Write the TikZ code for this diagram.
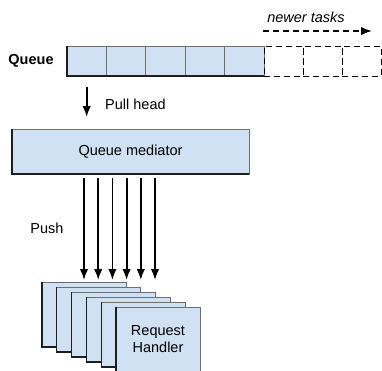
\documentclass[tikz,border=0pt]{standalone}
\usepackage{fontspec}
\setmainfont{Liberation Sans}
\usetikzlibrary{arrows.meta}
\definecolor{cellblue}{RGB}{207,225,242}
\definecolor{rimlight}{RGB}{110,110,110}
\definecolor{rimdark}{RGB}{30,30,30}
\tikzset{
  panel/.style={draw=rimlight, fill=cellblue, line width=1pt, rectangle,
    inner sep=0pt, outer sep=0pt, anchor=north west},
  slot/.style={draw=black, line width=1pt, dash pattern=on 6pt off 4pt,
    rectangle, inner sep=0pt, outer sep=0pt, anchor=north west,
    minimum width=39pt, minimum height=30pt},
  rim/.style={draw=rimdark, line width=1.3pt},
  push/.style={line width=1.8pt, -{Latex[length=11pt,width=8.5pt]}},
  lbl/.style={font=\fontsize{14.5}{17}\selectfont, inner sep=0pt}
}
\begin{document}
\begin{tikzpicture}[x=1pt,y=-1pt]
\useasboundingbox (0,0) rectangle (382,370);
\clip (0,0) rectangle (382,370);

% the queue: filled cells and the empty slots for newer tasks
\foreach \i in {0,...,4}
  \node[panel, minimum width=39.4pt, minimum height=30pt] (q\i) at ({67+39.4*\i},46) {};
\draw[rim] (q0.north west) -- (q0.south west) -- (q4.south east);
\foreach \i in {0,1,2}
  \node[slot] (s\i) at ({264+39*\i},46) {};

\node[lbl, font=\fontsize{14.5}{17}\selectfont\bfseries] (qlabel) at (31,61) {Queue};

% newer tasks arrive on the right
\node[lbl, font=\fontsize{14.5}{17}\selectfont\itshape] (newer) at (306,17) {newer tasks};
\coordinate (nt0) at (263,31);
\coordinate (nt1) at (372,31);
\draw[line width=1.8pt, dash pattern=on 6pt off 4pt, -{Latex[length=11pt,width=8.5pt]}] (nt0) -- (nt1);

% mediator
\node[panel, minimum width=237pt, minimum height=45pt] (med) at (12,129) {};
\draw[rim] (med.north west) -- (med.south west) -- (med.south east);
\node[lbl] (medtext) at (med.center) {Queue mediator};

% pull from the head of the queue
\draw[push, shorten <=11pt, shorten >=12pt] (q0.south) -- (q0.south |- med.north);
\node[lbl, anchor=west] (pull) at (105,104) {Pull head};

% stacked request handlers
\foreach \k in {0,...,5} {
  \node[panel, minimum width=84pt, minimum height=65pt] (h\k) at ({42+14.8*\k},{282+5*\k}) {};
  \draw[rim] (h\k.north west) -- (h\k.south west) -- (h\k.south east);
}
\node[lbl, align=center] (rh) at (h5.center) {Request\\Handler};

% push to the handlers
\foreach \x [count=\n] in {84,98.2,112.4,126.6,140.8,155} {
  \coordinate (pt\n) at (\x,280);
  \draw[push] (pt\n |- med.south) ++(0,4) -- (pt\n);
}
\node[lbl] (pushlabel) at (47,228) {Push};
\end{tikzpicture}
\end{document}
